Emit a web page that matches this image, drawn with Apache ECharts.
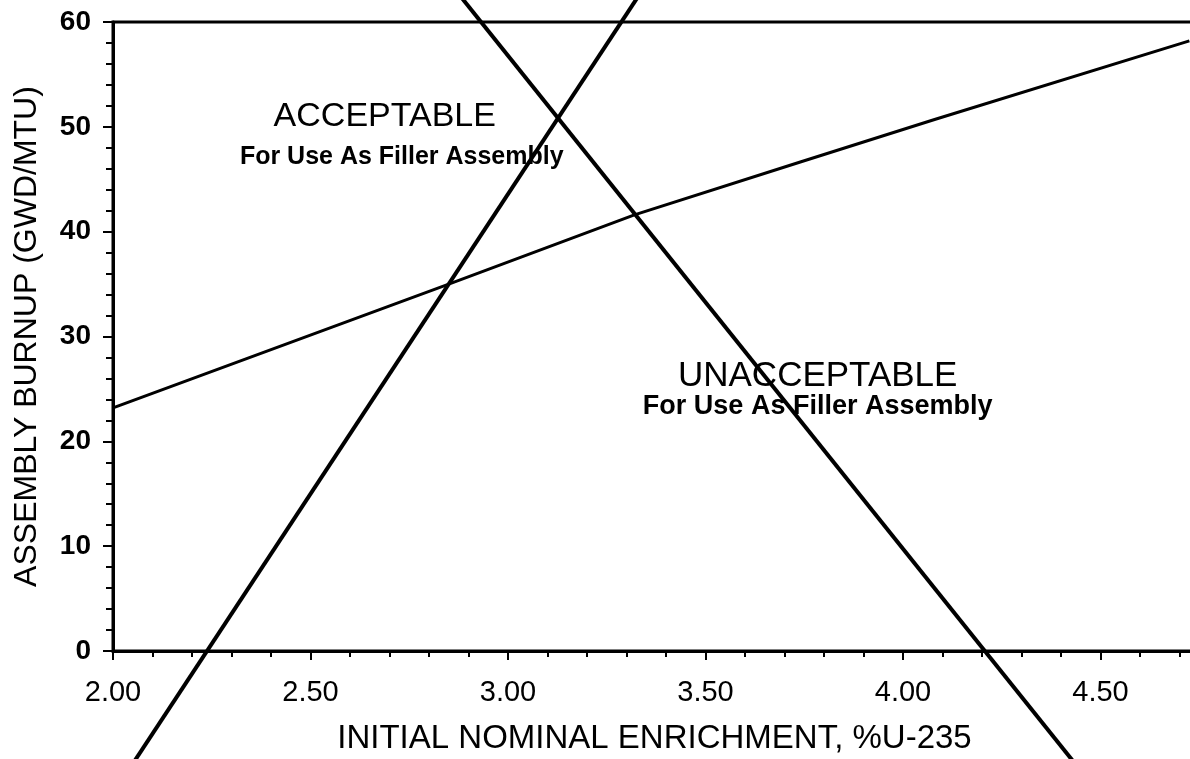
<!DOCTYPE html>
<html><head><meta charset="utf-8">
<script src="https://cdn.jsdelivr.net/npm/echarts@6/dist/echarts.min.js"></script>
<style>html,body{margin:0;padding:0;background:#fff}#chart{width:1190px;height:759px}</style>
</head><body><div id="chart"></div>
<script>
// ---- data ----
const xTickValues = [2.0, 2.5, 3.0, 3.5, 4.0, 4.5];
const yTickValues = [0, 10, 20, 30, 40, 50, 60];
const burnupLineX = [2.0, 2.85, 3.32, 3.74, 4.08, 4.725];
const burnupLineY = [23.2, 35.0, 41.6, 46.65, 50.7, 58.2];
const risingLineX = [2.0457, 3.3394];
const risingLineY = [-11, 63];
const fallingLineX = [2.868, 4.441];
const fallingLineY = [63, -11];
const regionTitles = ['ACCEPTABLE', 'UNACCEPTABLE'];
const regionSubtitle = 'For Use As Filler Assembly';
const xAxisTitle = 'INITIAL NOMINAL ENRICHMENT, %U-235';
const yAxisTitle = 'ASSEMBLY BURNUP (GWD/MTU)';

// ---- layout (annotation anchors in data coordinates) ----
const annoLayout = [
  {text: regionTitles[0], x: 2.688, y: 51.0, size: 34, weight: 'normal'},
  {text: regionSubtitle, x: 2.731, y: 47.1, size: 25, weight: 'bold'},
  {text: regionTitles[1], x: 3.784, y: 26.2, size: 35, weight: 'normal'},
  {text: regionSubtitle, x: 3.784, y: 23.3, size: 27, weight: 'bold'}
];

const zip = (xs, ys) => xs.map((x, i) => [x, ys[i]]);
const FONT = 'Liberation Sans, Arial, sans-serif';

const chart = echarts.init(document.getElementById('chart'), null, {renderer: 'canvas'});
chart.setOption({
  animation: false,
  backgroundColor: '#ffffff',
  textStyle: {color: '#000', fontFamily: FONT},
  grid: {left: 113, right: -108, top: 22, bottom: 108, show: true, borderColor: '#000', borderWidth: 3,
         containLabel: false, outerBoundsMode: 'none'},
  xAxis: {
    type: 'value', min: 2.0, max: 5.0, interval: 0.5,
    splitLine: {show: false},
    axisLine: {show: true, onZero: false, lineStyle: {color: '#000', width: 3}},
    axisTick: {show: true, length: 9, lineStyle: {color: '#000', width: 2}},
    minorTick: {show: true, splitNumber: 5, length: 6, lineStyle: {color: '#000', width: 2}},
    axisLabel: {margin: 27, color: '#000', fontSize: 29, fontFamily: FONT,
      formatter: v => xTickValues.some(t => Math.abs(t - v) < 1e-6) ? v.toFixed(2) : ''},
    name: xAxisTitle, nameLocation: 'middle', nameGap: 71,
    nameTextStyle: {color: '#000', fontSize: 33, fontFamily: FONT, padding: [0, 102, 0, 0]}
  },
  yAxis: {
    type: 'value', min: 0, max: 60, interval: 10,
    splitLine: {show: false},
    axisLine: {show: true, onZero: false, lineStyle: {color: '#000', width: 3}},
    axisTick: {show: true, length: 10, lineStyle: {color: '#000', width: 2}},
    minorTick: {show: true, splitNumber: 5, length: 7, lineStyle: {color: '#000', width: 2}},
    axisLabel: {margin: 22, color: '#000', fontSize: 28, fontWeight: 'bold', fontFamily: FONT,
      formatter: v => yTickValues.includes(v) ? String(v) : ''},
    name: yAxisTitle, nameLocation: 'middle', nameGap: 70,
    nameTextStyle: {color: '#000', fontSize: 32, fontFamily: FONT}
  },
  series: [
    {type: 'line', name: 'burnup', data: zip(burnupLineX, burnupLineY), showSymbol: false, clip: false,
     lineStyle: {color: '#000', width: 3}, silent: true},
    {type: 'line', name: 'rising', data: zip(risingLineX, risingLineY), showSymbol: false, clip: false,
     lineStyle: {color: '#000', width: 4}, silent: true},
    {type: 'line', name: 'falling', data: zip(fallingLineX, fallingLineY), showSymbol: false, clip: false,
     lineStyle: {color: '#000', width: 4}, silent: true},
    {type: 'scatter', name: 'labels', symbolSize: 1, silent: true, z: 5,
     itemStyle: {color: '#000', opacity: 0},
     label: {show: true, position: 'inside', color: '#000', opacity: 1, fontFamily: FONT},
     data: annoLayout.map(a => ({value: [a.x, a.y], name: a.text,
       label: {show: true, position: 'inside', formatter: a.text, color: '#000', opacity: 1, fontSize: a.size,
               fontWeight: a.weight, fontFamily: FONT, align: 'center', verticalAlign: 'middle'}}))}
  ]
});
</script></body></html>
